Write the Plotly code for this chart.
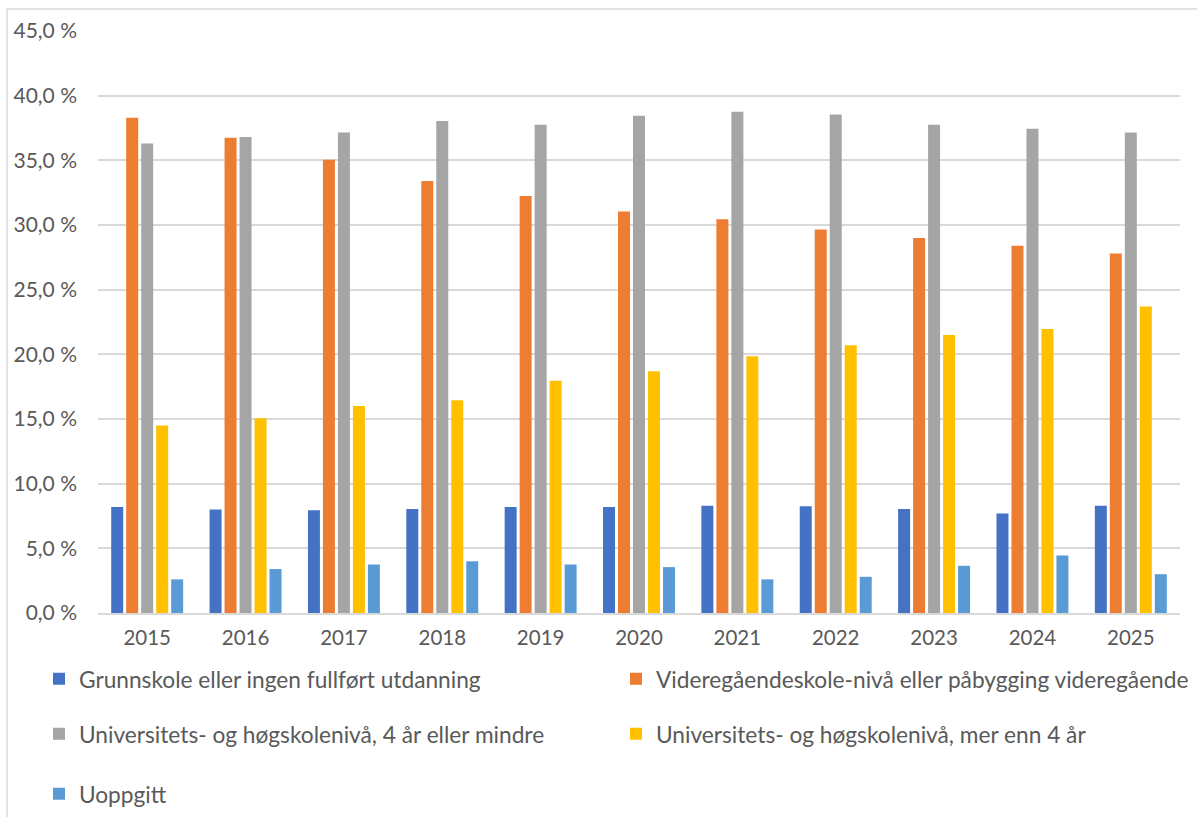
import plotly.graph_objects as go

years = ["2015", "2016", "2017", "2018", "2019", "2020", "2021", "2022", "2023", "2024", "2025"]

grunnskole = [8.2, 8.0, 7.95, 8.05, 8.2, 8.2, 8.3, 8.25, 8.05, 7.7, 8.3]
videregaende = [38.3, 36.75, 35.05, 33.4, 32.25, 31.05, 30.45, 29.65, 29.0, 28.4, 27.8]
univ_4_mindre = [36.3, 36.8, 37.15, 38.05, 37.75, 38.45, 38.75, 38.55, 37.75, 37.45, 37.15]
univ_mer_4 = [14.5, 15.05, 16.0, 16.45, 17.95, 18.7, 19.85, 20.7, 21.5, 21.95, 23.7]
uoppgitt = [2.6, 3.4, 3.75, 4.0, 3.75, 3.55, 2.6, 2.8, 3.65, 4.45, 3.0]

series_names = [
    "Grunnskole eller ingen fullført utdanning",
    "Videregåendeskole-nivå eller påbygging videregående",
    "Universitets- og høgskolenivå, 4 år eller mindre",
    "Universitets- og høgskolenivå, mer enn 4 år",
    "Uoppgitt",
]
series_values = [grunnskole, videregaende, univ_4_mindre, univ_mer_4, uoppgitt]
series_colors = ["#4472C4", "#ED7D31", "#A5A5A5", "#FFC000", "#5B9BD5"]
series_legends = ["legend", "legend", "legend2", "legend2", "legend3"]

y_tickvals = [0, 5, 10, 15, 20, 25, 30, 35, 40, 45]
y_ticktext = ["0,0 %", "5,0 %", "10,0 %", "15,0 %", "20,0 %", "25,0 %", "30,0 %", "35,0 %", "40,0 %", "45,0 %"]

FONT = "Lato"
TXT = "#595959"

fig = go.Figure()
for name, vals, col, lg in zip(series_names, series_values, series_colors, series_legends):
    fig.add_trace(go.Bar(
        x=years, y=vals, name=name, legend=lg,
        marker=dict(color=col, line=dict(width=0)),
        hovertemplate="%{x}: %{y:.1f} %<extra>" + name + "</extra>",
    ))

W, H = 1197, 817
L, R, T, B = 98, 17, 31, 204
plot_h = H - T - B

def py(pix):
    return (H - B - pix) / plot_h

def px(pix):
    return (pix - L) / (W - L - R)

legend_common = dict(
    orientation="h", xanchor="left", yanchor="middle",
    font=dict(family=FONT, size=22.7, color=TXT),
    entrywidth=532, entrywidthmode="pixels",
    bgcolor="rgba(0,0,0,0)", itemclick=False, itemdoubleclick=False,
    tracegroupgap=0,
)

fig.update_layout(
    width=W, height=H,
    margin=dict(l=L, r=R, t=T, b=B, autoexpand=False),
    paper_bgcolor="white", plot_bgcolor="white",
    font=dict(family=FONT, size=21, color=TXT),
    barmode="group", bargap=0.238, bargroupgap=0.2,
    showlegend=True,
    legend=dict(legend_common, x=px(39), y=py(679)),
    legend2=dict(legend_common, x=px(39), y=py(734)),
    legend3=dict(legend_common, x=px(39), y=py(794)),
    xaxis=dict(
        type="category", showgrid=False, showline=True, linecolor="#D9D9D9", linewidth=1.5,
        ticks="", tickfont=dict(family=FONT, size=20.5, color=TXT), ticklabelstandoff=6,
        fixedrange=True,
    ),
    yaxis=dict(
        range=[0, 45], tickvals=y_tickvals, ticktext=y_ticktext,
        showgrid=True, gridcolor="#D9D9D9", gridwidth=1.5, zeroline=False,
        showline=False, ticks="", tickfont=dict(family=FONT, size=21, color=TXT),
        ticklabelstandoff=20, fixedrange=True,
    ),
    shapes=[dict(
        type="rect", xref="paper", yref="paper",
        x0=px(7), x1=px(1230), y0=py(840), y1=py(9),
        line=dict(color="#D9D9D9", width=1.5), fillcolor="rgba(0,0,0,0)", layer="below",
    )],
)

fig.write_html(
    "out.html",
    config={"displayModeBar": False},
    post_script="document.body.style.margin='0';document.body.style.overflow='hidden';",
)
